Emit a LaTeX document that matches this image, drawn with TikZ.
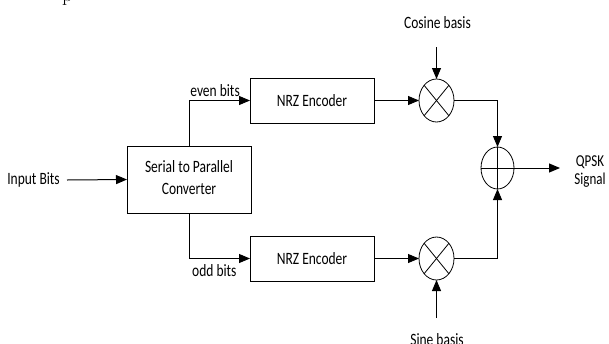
\documentclass[tikz,border=0pt]{standalone}
\usepackage{graphicx}
\usepackage{fontspec}
\newfontfamily\labelfont{Carlito}
\usetikzlibrary{arrows.meta,shapes.geometric}

% labels are set slightly taller than wide
\newcommand{\tall}[1]{\scalebox{1}[1.28]{#1}}

\tikzset{
  lbl/.style={font=\labelfont\fontsize{13.5}{17}\selectfont, inner sep=0pt, text=black},
  blockbox/.style={draw, line width=1pt, minimum width=124pt, minimum height=45pt,
    inner sep=0pt, outer sep=0pt, lbl},
  mixer/.style={draw, ellipse, line width=0.8pt, minimum width=35pt, minimum height=43pt,
    inner sep=0pt, outer sep=0pt},
  wire/.style={line width=1pt},
  arr/.style={wire, -{Triangle[length=11pt,width=9pt]}},
}

\begin{document}
\begin{tikzpicture}[x=1pt, y=-1pt]
  \useasboundingbox (0,0) rectangle (609,343);

  % fragment of the running text above
  \begin{scope}
    \clip (0,0) rectangle (609,343);
    \node[inner sep=0pt, anchor=base west, font=\fontsize{20}{20}\selectfont] (pfrag) at (62,1) {p};
  \end{scope}

  % blocks
  \node[blockbox, minimum height=67pt] (s2p) at (189,179.5)
    {\tall{\begin{tabular}{@{}c@{}}Serial to Parallel\\Converter\end{tabular}}};
  \node[blockbox] (nrz1) at (312,100.5) {\tall{NRZ Encoder}};
  \node[blockbox] (nrz2) at (312,258.5) {\tall{NRZ Encoder}};

  % product modulators and summer
  \node[mixer] (m1) at (436.5,100.5) {};
  \node[mixer] (m2) at (436.5,258.5) {};
  \node[mixer, minimum width=33pt, minimum height=42pt] (add) at (497.5,168) {};
  \draw[line width=0.8pt] (m1.north west) -- (m1.south east) (m1.north east) -- (m1.south west);
  \draw[line width=0.8pt] (m2.north west) -- (m2.south east) (m2.north east) -- (m2.south west);
  \draw[wire] (add.west) -- (add.east) (add.north) -- (add.south);

  % text labels
  \node[lbl, anchor=east] (in) at (60,180) {\tall{Input Bits}};
  \node[lbl, anchor=base east] (even) at (240,96) {\tall{even bits}};
  \node[lbl, anchor=base west] (odd) at (192,276) {\tall{odd bits}};
  \node[lbl] (cosl) at (437.5,23) {\tall{Cosine basis}};
  \node[lbl, anchor=base] (sinl) at (437,345) {\tall{Sine basis}};
  \node[lbl, font=\labelfont\fontsize{13}{14}\selectfont] (qpsk) at (590,171.5)
    {\tall{\begin{tabular}{@{}c@{}}QPSK\\Signal\end{tabular}}};

  % free ends of the carrier inputs and the output
  \coordinate (cosin) at (436.5,47);
  \coordinate (sinin) at (436.5,318);
  \coordinate (out) at (560,168);

  % connectors
  \draw[arr] ([xshift=7pt]in.east) -- (s2p.west);
  \draw[arr] (s2p.north) |- (nrz1.west);
  \draw[arr] (s2p.south) |- (nrz2.west);
  \draw[arr] (nrz1.east) -- (m1.west);
  \draw[arr] (nrz2.east) -- (m2.west);
  \draw[arr] (cosin) -- (m1.north);
  \draw[arr] (sinin) -- (m2.south);
  \draw[arr] (m1.east) -| (add.north);
  \draw[arr] (m2.east) -| (add.south);
  \draw[arr] (add.east) -- (out);
\end{tikzpicture}
\end{document}
